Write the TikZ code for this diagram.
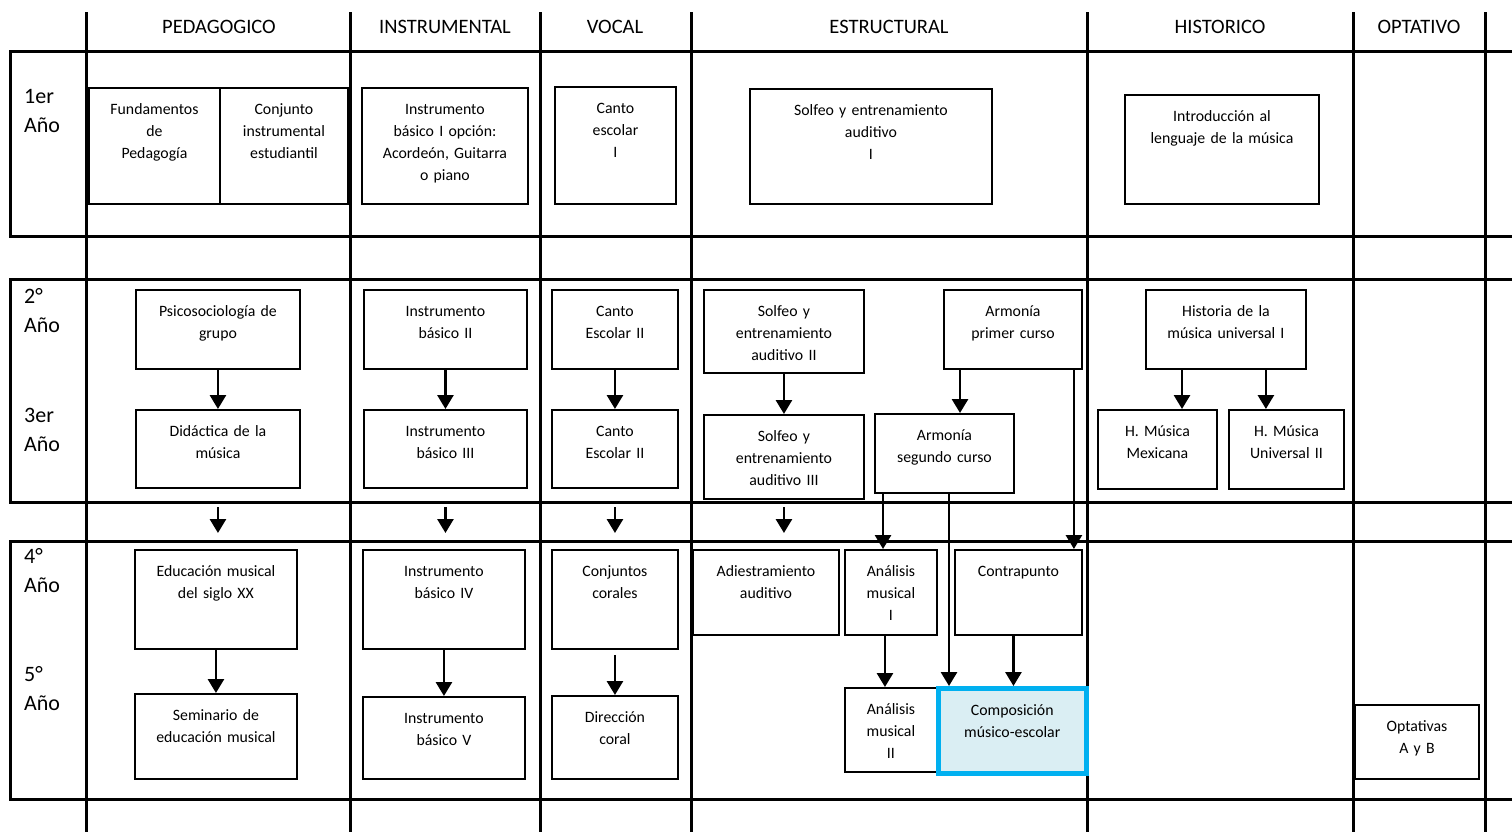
\documentclass[tikz,border=0pt]{standalone}
\usepackage{fontspec}
\setmainfont{Carlito}
\usetikzlibrary{arrows.meta}
\definecolor{compline}{HTML}{00B0F0}
\definecolor{compfill}{HTML}{DAEEF3}
\newcommand\boxfont{\fontsize{15.8}{21.8}\selectfont}
\newcommand\headfont{\fontsize{20.5}{24}\selectfont}
\newcommand\yrfont{\fontsize{22}{29.5}\selectfont}

\begin{document}
\begin{tikzpicture}[x=1pt,y=-1pt,
  grid/.style={line width=3pt,line cap=rect},
  box/.style 2 args={draw,line width=1.9pt,anchor=north west,
    inner sep=0pt,text width=#1,align=center,font=\boxfont,
    text height=27pt,text depth=#2},
  arr/.style={line width=2.8pt,
    -{Triangle[width=16pt,length=14pt]}},
  head/.style={font=\headfont,anchor=base},
  yr/.style={font=\yrfont,text width=60pt,align=left,
    anchor=base west,inner sep=0pt}]

\useasboundingbox (0,0) rectangle (1512,831);

\foreach \y in {51,236,279,502,541,799}
  \draw[grid] (10,\y) -- (1512,\y);
\foreach \x in {86,350,540,691,1087,1353,1485}
  \draw[grid] (\x,13) -- (\x,831);
\foreach \a/\b in {51/236,279/502,541/799}
  \draw[grid] (10,\a) -- (10,\b);

\node[head] at (219,33) (hPed) {PEDAGOGICO};
\node[head] at (445,33) (hIns) {INSTRUMENTAL};
\node[head] at (615,33) (hVoc) {VOCAL};
\node[head] at (889,33) (hEst) {ESTRUCTURAL};
\node[head] at (1220,33) (hHis) {HISTORICO};
\node[head] at (1419,33) (hOpt) {OPTATIVO};

\node[yr] at (24,103) (y1) {1er\\Año};
\node[yr] at (24,303) (y2) {2°\\Año};
\node[yr] at (24,422) (y3) {3er\\Año};
\node[yr] at (24,563) (y4) {4°\\Año};
\node[yr] at (24,681) (y5) {5°\\Año};

\node[box={131pt}{89pt}]
     at (88,87) (fund)
     {Fundamentos\\de\\Pedagogía};
\node[box={128pt}{89pt}]
     at (219,87) (conj)
     {Conjunto\\instrumental\\estudiantil};
\node[box={166pt}{89pt}]
     at (361,87) (ins1)
     {Instrumento\\básico I opción:\\Acordeón, Guitarra\\o piano};
\node[box={121pt}{90pt}]
     at (554,86) (can1)
     {Canto\\escolar\\I};
\node[box={242pt}{88pt}]
     at (749,88) (sol1)
     {Solfeo y entrenamiento\\auditivo\\I};
\node[box={194pt}{82pt}]
     at (1124,94) (intro)
     {Introducción al\\lenguaje de la música};

\node[box={164pt}{52pt}]
     at (135,289) (psi)
     {Psicosociología de\\grupo};
\node[box={163pt}{52pt}]
     at (363,289) (ins2)
     {Instrumento\\básico II};
\node[box={126pt}{52pt}]
     at (551,289) (can2)
     {Canto\\Escolar II};
\node[box={160pt}{56pt}]
     at (703,289) (sol2)
     {Solfeo y\\entrenamiento\\auditivo II};
\node[box={138pt}{52pt}]
     at (943,289) (arm1)
     {Armonía\\primer curso};
\node[box={160pt}{52pt}]
     at (1145,289) (his1)
     {Historia de la\\música universal I};

\node[box={164pt}{51pt}]
     at (135,409) (did)
     {Didáctica de la\\música};
\node[box={163pt}{51pt}]
     at (363,409) (ins3)
     {Instrumento\\básico III};
\node[box={126pt}{51pt}]
     at (551,409) (can3)
     {Canto\\Escolar II};
\node[box={160pt}{57pt}]
     at (703,414) (sol3)
     {Solfeo y\\entrenamiento\\auditivo III};
\node[box={139pt}{52pt}]
     at (874,413) (arm2)
     {Armonía\\segundo curso};
\node[box={119pt}{52pt}]
     at (1097,409) (hmex)
     {H. Música\\Mexicana};
\node[box={115pt}{52pt}]
     at (1228,409) (huni)
     {H. Música\\Universal II};

\node[box={162pt}{72pt}]
     at (134,549) (edu)
     {Educación musical\\del siglo XX};
\node[box={162pt}{72pt}]
     at (362,549) (ins4)
     {Instrumento\\básico IV};
\node[box={126pt}{72pt}]
     at (551,549) (coro)
     {Conjuntos\\corales};
\node[box={146pt}{58pt}]
     at (692,549) (adi)
     {Adiestramiento\\auditivo};
\node[box={92pt}{58pt}]
     at (844,549) (ana1)
     {Análisis\\musical\\I};
\node[box={127pt}{58pt}]
     at (954,549) (con)
     {Contrapunto};

\node[box={162pt}{58pt}]
     at (134,693) (sem)
     {Seminario de\\educación musical};
\node[box={162pt}{55pt}]
     at (362,696) (ins5)
     {Instrumento\\básico V};
\node[box={126pt}{56pt}]
     at (551,695) (dir)
     {Dirección\\coral};
\node[box={92pt}{57pt}]
     at (844,687) (ana2)
     {Análisis\\musical\\II};
\node[box={148pt}{58pt},draw=compline,fill=compfill,
      line width=4.5pt]
     at (936,686) (comp)
     {Composición\\músico-escolar};
\node[box={124pt}{47pt}]
     at (1354,704) (opt)
     {Optativas\\A y B};

\draw[arr] (psi) -- (did);
\draw[arr] (ins2) -- (ins3);
\draw[arr] (can2) -- (can3);
\draw[arr] (sol2) -- (sol3);
\draw[arr] ([xshift=17pt]arm1.south west)
     -- ([xshift=17pt]arm1.south west |- arm2.north);
\draw[arr] ([xshift=37pt]his1.south west)
     -- ([xshift=37pt]his1.south west |- hmex.north);
\draw[arr] ([xshift=-41pt]his1.south east)
     -- ([xshift=-41pt]his1.south east |- huni.north);

\coordinate (gtop) at (0,507);
\coordinate (gbot) at (0,533);
\foreach \n in {did,ins3,can3,sol3}
  \draw[arr] (\n.south |- gtop) -- (\n.south |- gbot);

\draw[arr] ([xshift=9pt]arm2.south west)
     -- ([xshift=9pt]arm2.south west |- ana1.north);
\draw[arr] ([xshift=75pt]arm2.south west)
     -- ([xshift=75pt]arm2.south west |- comp.north);
\draw[arr] ([xshift=-9pt]arm1.south east)
     -- ([xshift=-9pt]arm1.south east |- con.north);

\draw[arr] (edu) -- (sem);
\draw[arr] (ins4) -- (ins5);
\draw[arr] ([yshift=-5pt]coro.south) -- (dir.north);
\draw[arr] ([xshift=-6pt]ana1.south)
     -- ([xshift=-6pt]ana1.south |- ana2.north);
\draw[arr] ([xshift=-5pt]con.south)
     -- ([xshift=-5pt]con.south |- comp.north);

\end{tikzpicture}
\end{document}
